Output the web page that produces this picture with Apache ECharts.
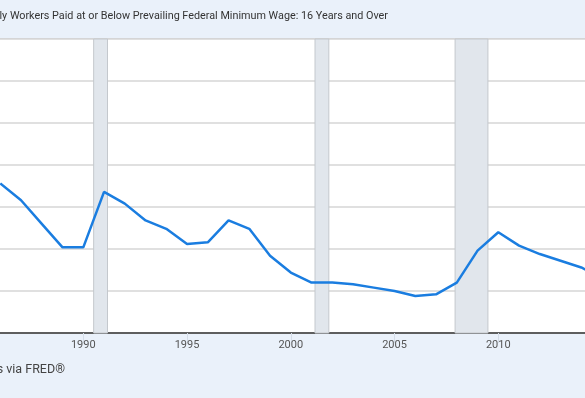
<!DOCTYPE html>
<html>
<head>
<meta charset="utf-8">
<style>
  html, body { margin: 0; padding: 0; background: #fff; }
  #chart { width: 585px; height: 398px; }
</style>
<script src="https://cdn.jsdelivr.net/npm/echarts@6/dist/echarts.min.js"></script>
</head>
<body>
<div id="chart"></div>
<script>
var chart = echarts.init(document.getElementById('chart'));

// annual values, percent of hourly workers
var years = [1986, 1987, 1988, 1989, 1990, 1991, 1992, 1993, 1994, 1995,
  1996, 1997, 1998, 1999, 2000, 2001, 2002, 2003, 2004, 2005,
  2006, 2007, 2008, 2009, 2010, 2011, 2012, 2013, 2014, 2015];
var values = [8.9, 7.9, 6.5, 5.1, 5.1, 8.4, 7.7, 6.7, 6.2, 5.3,
  5.4, 6.7, 6.2, 4.6, 3.6, 3.0, 3.0, 2.9, 2.7, 2.5,
  2.2, 2.3, 3.0, 4.9, 6.0, 5.2, 4.7, 4.3, 3.9, 3.3];
var tickYears = [1990, 1995, 2000, 2005, 2010];
// recessions as [start, end] in fractional years
var recessions = [[1990.5, 1991.167], [2001.167, 2001.833], [2007.917, 2009.5]];

var titleText = 'Percent of Hourly Workers Paid at or Below Prevailing Federal Minimum Wage: 16 Years and Over';
var sourceText = 'Source: U.S. Bureau of Labor Statistics via FRED®';

var points = years.map(function (y, i) { return [y, values[i]]; });

var option = {
  backgroundColor: '#fff',
  animation: false,
  grid: { left: 0, right: 0, top: 39, bottom: 65 },
  graphic: [
    { type: 'rect', left: 0, top: 0, shape: { width: 585, height: 38 },
      style: { fill: '#eaf1fa' }, z: -1 },
    { type: 'rect', left: 0, top: 38, shape: { width: 585, height: 1 },
      style: { fill: '#d2d4d7' }, z: -1 },
    { type: 'rect', left: 0, top: 333, shape: { width: 585, height: 65 },
      style: { fill: '#eaf1fa' }, z: -1 },
    { type: 'text', x: 388, y: 16, style: {
        text: titleText, align: 'right', verticalAlign: 'middle',
        font: '10.8px Roboto', fill: '#333' } },
    { type: 'text', x: 65, y: 370, style: {
        text: sourceText, align: 'right', verticalAlign: 'middle',
        font: '12.5px Roboto', fill: '#444' } }
  ],
  xAxis: {
    type: 'value',
    min: 1985.986,
    max: 2014.178,
    splitLine: { show: false },
    axisLine: { show: true, onZero: false, lineStyle: { color: '#333', width: 1.5 } },
    axisTick: { show: true, customValues: tickYears, length: 10,
      lineStyle: { color: '#d5dde8' } },
    axisLabel: { customValues: tickYears, color: '#555', fontSize: 11,
      fontFamily: 'Roboto', margin: 7,
      formatter: function (v) { return String(v); } }
  },
  yAxis: {
    type: 'value',
    min: 0,
    max: 17.5,
    interval: 2.5,
    axisLine: { show: false },
    axisTick: { show: false },
    axisLabel: { show: false },
    splitLine: { lineStyle: { color: '#d6d6d6', width: 1.5 } }
  },
  series: [{
    type: 'line',
    data: points,
    showSymbol: false,
    clip: true,
    lineStyle: { color: '#1a7de0', width: 2.5 },
    markArea: {
      silent: true,
      itemStyle: { color: '#e1e6ec', borderColor: '#c4c8cd', borderWidth: 1 },
      data: recessions.map(function (r) { return [{ xAxis: r[0] }, { xAxis: r[1] }]; })
    }
  }]
};

chart.setOption(option);
</script>
</body>
</html>
